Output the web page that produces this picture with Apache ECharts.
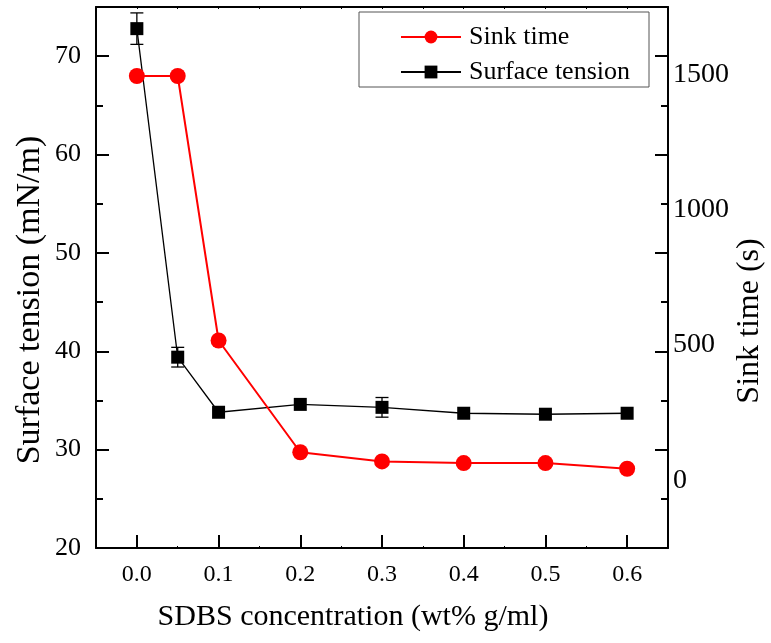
<!DOCTYPE html>
<html>
<head>
<meta charset="utf-8">
<script src="https://cdn.jsdelivr.net/npm/echarts@6/dist/echarts.min.js"></script>
<style>
  html, body { margin: 0; padding: 0; background: #fff; }
  #chart { width: 771px; height: 643px; }
</style>
</head>
<body>
<div id="chart"></div>
<script>
// SDBS concentration (wt% g/ml)
const concentration = [0.0, 0.05, 0.1, 0.2, 0.3, 0.4, 0.5, 0.6];
// Surface tension (mN/m) and its error bars
const surfaceTension = [72.8, 39.4, 33.8, 34.6, 34.3, 33.7, 33.6, 33.7];
const surfaceTensionErr = [1.6, 1.0, 0, 0, 1.0, 0, 0, 0];
// Sink time (s)
const sinkTime = [1495, 1495, 517, 104, 70, 64, 64, 43];

// Tick positions
const xMajorTicks = [0, 0.1, 0.2, 0.3, 0.4, 0.5, 0.6];
const xMinorTicks = [0.05, 0.15, 0.25, 0.35, 0.45, 0.55];
const xTopTicks = [0, 0.05, 0.1, 0.15, 0.2, 0.25, 0.3, 0.35, 0.4, 0.45, 0.5, 0.55, 0.6];
const yMajorTicks = [20, 30, 40, 50, 60, 70];
const yMinorTicks = [25, 35, 45, 55, 65];
const sinkTicks = [0, 500, 1000, 1500];

// Axis titles
const xTitle = 'SDBS concentration (wt% g/ml)';
const yLeftTitle = 'Surface tension (mN/m)';
const yRightTitle = 'Sink time (s)';

const FONT = '"Liberation Serif", "DejaVu Serif", serif';
const black = '#000';

const chart = echarts.init(document.getElementById('chart'), null, { renderer: 'canvas' });

function pairs(xs, ys) { return xs.map((x, i) => [x, ys[i]]); }

const xRange = { min: -0.05, max: 0.65 };
const stRange = { min: 20, max: 75 };
const frameLine = { show: true, onZero: false, lineStyle: { color: black, width: 2 } };
const noLine = { show: false, onZero: false };

function titleText(text, x, y, size, rotation) {
  return {
    type: 'text', x, y, rotation: rotation || 0,
    style: { text, fill: black, font: size + 'px ' + FONT, textAlign: 'center', textVerticalAlign: 'middle' }
  };
}

const option = {
  backgroundColor: '#fff',
  animation: false,
  grid: { left: 96, right: 103, top: 7, bottom: 95, containLabel: false },
  graphic: [
    titleText(xTitle, 353, 617, 30, 0),
    titleText(yLeftTitle, 30, 300, 34, Math.PI / 2),
    titleText(yRightTitle, 750, 321, 32, Math.PI / 2)
  ],
  legend: {
    orient: 'vertical',
    left: 359,
    top: 12,
    align: 'left',
    data: ['Sink time', 'Surface tension'],
    itemWidth: 60,
    itemHeight: 16,
    itemGap: 9,
    padding: [12, 19, 2, 41],
    borderColor: '#555',
    borderWidth: 1,
    textStyle: { fontFamily: FONT, fontSize: 26, color: black, padding: [0, 0, 0, 3] }
  },
  xAxis: [
    {
      type: 'value', position: 'bottom', ...xRange,
      axisLine: frameLine,
      axisTick: { show: true, inside: true, length: 13, customValues: xMajorTicks, lineStyle: { color: black, width: 2 } },
      axisLabel: { show: true, customValues: xMajorTicks, margin: 15, fontFamily: FONT, fontSize: 24, color: black,
        formatter: v => v.toFixed(1) },
      splitLine: { show: false }
    },
    {
      type: 'value', position: 'bottom', ...xRange,
      axisLine: noLine,
      axisTick: { show: true, inside: true, length: 2, customValues: xMinorTicks, lineStyle: { color: black, width: 1 } },
      axisLabel: { show: false },
      splitLine: { show: false }
    },
    {
      type: 'value', position: 'top', ...xRange,
      axisLine: frameLine,
      axisTick: { show: true, inside: true, length: 2, customValues: xTopTicks, lineStyle: { color: black, width: 1 } },
      axisLabel: { show: false },
      splitLine: { show: false }
    }
  ],
  yAxis: [
    {
      type: 'value', position: 'left', ...stRange,
      axisLine: frameLine,
      axisTick: { show: true, inside: true, length: 13, customValues: yMajorTicks, lineStyle: { color: black, width: 2 } },
      axisLabel: { show: true, customValues: yMajorTicks, margin: 15, fontFamily: FONT, fontSize: 26, color: black },
      splitLine: { show: false }
    },
    {
      type: 'value', position: 'left', ...stRange,
      axisLine: noLine,
      axisTick: { show: true, inside: true, length: 7, customValues: yMinorTicks, lineStyle: { color: black, width: 2 } },
      axisLabel: { show: false },
      splitLine: { show: false }
    },
    {
      type: 'value', position: 'right', ...stRange,
      axisLine: frameLine,
      axisTick: { show: true, inside: true, length: 13, customValues: yMajorTicks, lineStyle: { color: black, width: 2 } },
      axisLabel: { show: false },
      splitLine: { show: false }
    },
    {
      type: 'value', position: 'right', ...stRange,
      axisLine: noLine,
      axisTick: { show: true, inside: true, length: 7, customValues: yMinorTicks, lineStyle: { color: black, width: 2 } },
      axisLabel: { show: false },
      splitLine: { show: false }
    },
    {
      type: 'value', position: 'right', min: -250, max: 1750,
      axisLine: noLine,
      axisTick: { show: false },
      axisLabel: { show: true, customValues: sinkTicks, margin: 5, fontFamily: FONT, fontSize: 28, color: black,
        formatter: v => String(v) },
      splitLine: { show: false }
    }
  ],
  series: [
    {
      // error bars on surface tension
      type: 'custom',
      name: 'errors',
      xAxisIndex: 0, yAxisIndex: 0,
      z: 1,
      silent: true,
      data: concentration.map((x, i) => [x, surfaceTension[i], surfaceTensionErr[i]]),
      renderItem: function (params, api) {
        const x = api.value(0), y = api.value(1), e = api.value(2);
        if (!e) return null;
        const top = api.coord([x, y + e]);
        const bot = api.coord([x, y - e]);
        const hw = 6.5;
        const style = { stroke: black, lineWidth: 1.3 };
        return {
          type: 'group',
          children: [
            { type: 'line', shape: { x1: top[0], y1: top[1], x2: bot[0], y2: bot[1] }, style },
            { type: 'line', shape: { x1: top[0] - hw, y1: top[1], x2: top[0] + hw, y2: top[1] }, style },
            { type: 'line', shape: { x1: bot[0] - hw, y1: bot[1], x2: bot[0] + hw, y2: bot[1] }, style }
          ]
        };
      }
    },
    {
      type: 'line',
      name: 'Surface tension',
      xAxisIndex: 0, yAxisIndex: 0,
      z: 2,
      data: pairs(concentration, surfaceTension),
      symbol: 'rect', symbolSize: 13,
      itemStyle: { color: black },
      lineStyle: { color: black, width: 1.3 }
    },
    {
      type: 'line',
      name: 'Sink time',
      xAxisIndex: 0, yAxisIndex: 4,
      z: 3,
      data: pairs(concentration, sinkTime),
      symbol: 'circle', symbolSize: 16,
      itemStyle: { color: '#ff0000' },
      lineStyle: { color: '#ff0000', width: 2 }
    }
  ]
};

chart.setOption(option);
</script>
</body>
</html>
